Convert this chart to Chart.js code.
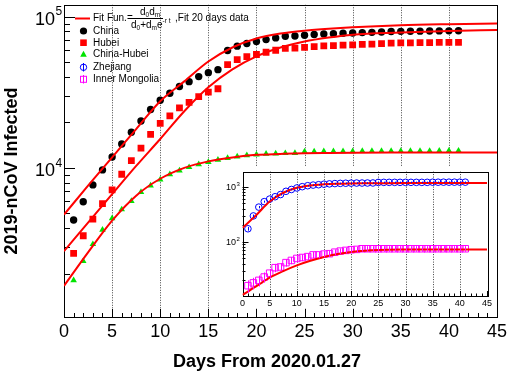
<!DOCTYPE html>
<html>
<head>
<meta charset="utf-8">
<script src="https://cdn.jsdelivr.net/npm/chart.js@4.4.0/dist/chart.umd.min.js"></script>
<style>
  html, body { margin: 0; padding: 0; background: #fff; }
  #wrap { position: relative; width: 510px; height: 373px; }
  #mainChart { position: absolute; left: 0; top: 0; }
  #insetChart { position: absolute; left: 220px; top: 166px; }
</style>
</head>
<body>
<div id="wrap">
  <canvas id="mainChart" width="510" height="373"></canvas>
  <canvas id="insetChart" width="277" height="142"></canvas>
</div>
<script>
// data block
// days since 2020.01.27
const days = [1, 2, 3, 4, 5, 6, 7, 8, 9, 10, 11, 12, 13, 14, 15, 16, 17, 18, 19, 20,
  21, 22, 23, 24, 25, 26, 27, 28, 29, 30, 31, 32, 33, 34, 35, 36, 37, 38, 39, 40, 41];
const china = [4515, 5974, 7711, 9692, 11791, 14380, 17205, 20438, 24324, 28018,
  31161, 34546, 37198, 40171, 42638, 44653, 59804, 63851, 66492, 68500,
  70548, 72436, 74185, 74576, 75465, 76288, 76936, 77150, 77658, 78064,
  78497, 78824, 79251, 79824, 80026, 80151, 80270, 80409, 80552, 80651, 80695];
const hubei = [2714, 3554, 4586, 5806, 7153, 9074, 11177, 13522, 16678, 19665,
  22112, 24953, 27100, 29631, 31728, 33366, 48206, 51986, 54406, 56249,
  58182, 59989, 61682, 62031, 62662, 63454, 64084, 64287, 64786, 65187,
  65596, 65914, 66337, 66907, 67103, 67217, 67332, 67466, 67592, 67666, 67707];
const chinaExHubei = [1801, 2420, 3125, 3886, 4638, 5306, 6028, 6916, 7646, 8353,
  9049, 9593, 10098, 10540, 10910, 11287, 11598, 11865, 12086, 12251,
  12366, 12447, 12503, 12545, 12803, 12834, 12852, 12863, 12872, 12877,
  12901, 12910, 12914, 12917, 12923, 12934, 12938, 12943, 12960, 12985, 12988];
const zhejiang = [173, 296, 428, 538, 599, 661, 724, 829, 895, 954,
  1006, 1048, 1075, 1092, 1117, 1131, 1145, 1155, 1162, 1167,
  1171, 1172, 1173, 1175, 1203, 1205, 1205, 1205, 1205, 1205,
  1205, 1205, 1205, 1206, 1213, 1213, 1215, 1215, 1215, 1215, 1215];
const innerMongolia = [16, 18, 20, 23, 27, 34, 35, 42, 46, 50,
  52, 54, 58, 58, 60, 61, 65, 68, 70, 72,
  73, 75, 75, 75, 75, 75, 75, 75, 75, 75,
  75, 75, 75, 75, 75, 75, 75, 75, 75, 75, 75];

// fit curves
const fitDays = [0, 2.5, 5, 7.5, 10, 12.5, 15, 17.5, 20, 22.5, 25, 27.5, 30, 35, 40, 45];
const chinaFit = [4900, 7620, 11720, 18060, 27600, 37350, 50580, 62540, 71670, 77320,
  80900, 83400, 85300, 87900, 89300, 90300];
const hubeiFit = [2810, 4345, 6700, 10300, 15520, 23700, 34100, 44800, 54600, 62500,
  68500, 72800, 76100, 78500, 80500, 81700];
const chinaExHubeiFit = [1656, 2760, 4480, 6550, 8470, 10000, 11040, 11720, 12190, 12360,
  12500, 12560, 12600, 12620, 12640, 12640];
const insetFitDays = [0, 2.5, 5, 7.5, 10, 12.5, 15, 17.5, 20, 22.5, 25, 30, 35, 40, 45];
const zhejiangFit = [180, 305, 540, 780, 960, 1060, 1110, 1140, 1155, 1162, 1165, 1170, 1170, 1170, 1170];
const innerMongoliaFit = [10.9, 15.5, 22.4, 29.5, 37.5, 45.5, 53, 60, 65.5, 69, 71, 72.5, 73, 73, 73];

// tick labels
const xTicks = [0, 5, 10, 15, 20, 25, 30, 35, 40, 45];
const yTicksMain = [10000, 100000];
const yTicksInset = [100, 1000];

const FONT = '"Liberation Sans", Arial, Helvetica, sans-serif';
const RED = '#ff0000', GREEN = '#00e400', BLUE = '#0000ff', MAGENTA = '#ff00ff';

const pts = (xs, ys) => xs.map((d, i) => ({ x: d, y: ys[i] }));
const fitLine = (data) => ({
  data, showLine: true, borderColor: RED, borderWidth: 2, pointRadius: 0,
  cubicInterpolationMode: 'monotone', fill: false,
});
const markers = (data, style, radius, color, filled) => ({
  data, showLine: false, pointStyle: style, pointRadius: radius,
  pointBackgroundColor: filled ? color : 'rgba(0,0,0,0)', pointBorderColor: color,
  pointBorderWidth: filled ? 0 : 1,
});

function seg(ctx, x1, y1, x2, y2) {
  ctx.beginPath(); ctx.moveTo(x1, y1); ctx.lineTo(x2, y2); ctx.stroke();
}

// draw text pieces: mode 0 normal, 1 subscript, 2 superscript
function rich(ctx, parts, x, y, size) {
  ctx.textAlign = 'left'; ctx.textBaseline = 'middle';
  parts.forEach(([txt, mode]) => {
    const s = mode ? size * 0.65 : size;
    ctx.font = s + 'px ' + FONT;
    const dy = mode === 1 ? size * 0.3 : mode === 2 ? -size * 0.4 : 0;
    ctx.fillText(txt, x, y + dy);
    x += ctx.measureText(txt).width;
  });
  return x;
}

// axes, ticks and dotted grid drawn the ROOT way (ticks inside the frame)
function drawFrame(chart, o) {
  const { ctx, chartArea: { left, right, top, bottom }, scales: { x, y } } = chart;
  ctx.save();
  ctx.lineWidth = 1;
  // dotted grid
  ctx.strokeStyle = '#444';
  ctx.setLineDash([1, 1.5]);
  xTicks.forEach(v => {
    if (v > x.min && v < x.max) {
      const px = Math.round(x.getPixelForValue(v)) + 0.5;
      seg(ctx, px, top, px, bottom);
    }
  });
  ctx.setLineDash([]);
  ctx.strokeStyle = '#000';
  // frame
  ctx.strokeRect(Math.round(left) + 0.5, Math.round(top) + 0.5, Math.round(right - left), Math.round(bottom - top));
  // x ticks
  for (let d = 0; d <= 45; d++) {
    const px = Math.round(x.getPixelForValue(d)) + 0.5;
    const len = d % 5 === 0 ? o.xMajor : o.xMinor;
    seg(ctx, px, bottom, px, bottom - len);
  }
  // y ticks
  for (let e = o.decadeFrom; e <= o.decadeTo; e++) {
    for (let m = 1; m <= 9; m++) {
      const v = m * Math.pow(10, e);
      if (v < y.min || v > y.max) continue;
      const py = Math.round(y.getPixelForValue(v)) + 0.5;
      seg(ctx, left, py, left + (m === 1 ? o.yMajor : o.yMinor), py);
    }
  }
  // labels
  ctx.fillStyle = '#000';
  ctx.font = o.fontSize + 'px ' + FONT;
  ctx.textAlign = 'center';
  ctx.textBaseline = 'middle';
  xTicks.forEach(v => ctx.fillText(String(v), x.getPixelForValue(v), o.xLabelY));
  o.yTicks.forEach(v => {
    const py = y.getPixelForValue(v);
    ctx.font = o.fontSize + 'px ' + FONT;
    ctx.textAlign = 'right';
    ctx.fillText('10', o.yLabelX, py + o.yLabelDy);
    ctx.font = Math.round(o.fontSize * 0.68) + 'px ' + FONT;
    ctx.textAlign = 'left';
    ctx.fillText(String(Math.round(Math.log10(v))), o.yLabelX + 0.5, py + o.yLabelDy - o.fontSize * 0.42);
  });
  ctx.restore();
}

const mainAxes = {
  id: 'mainAxes',
  beforeDatasetsDraw(chart) {
    drawFrame(chart, {
      xMajor: 8, xMinor: 4, yMajor: 11, yMinor: 6, decadeFrom: 3, decadeTo: 5,
      fontSize: 18, xLabelY: 332, yTicks: yTicksMain, yLabelX: 55, yLabelDy: 3,
    });
    const { ctx } = chart;
    ctx.save();
    ctx.fillStyle = '#000';
    ctx.font = 'bold 18px ' + FONT;
    ctx.textAlign = 'center';
    ctx.textBaseline = 'middle';
    ctx.fillText('Days From 2020.01.27', 267, 362);
    ctx.translate(12, 171);
    ctx.rotate(-Math.PI / 2);
    ctx.font = 'bold 18px ' + FONT;
    ctx.fillText('2019-nCoV Infected', 0, 0);
    ctx.restore();
  },
  afterDraw(chart) {
    const { ctx } = chart;
    ctx.save();
    ctx.fillStyle = '#000';
    // fit line entry with the formula
    ctx.strokeStyle = RED; ctx.lineWidth = 2;
    seg(ctx, 75, 18.5, 90, 18.5);
    rich(ctx, [['Fit Fun.=', 0]], 93, 18.5, 10);
    ctx.strokeStyle = '#000'; ctx.lineWidth = 1;
    seg(ctx, 130, 18.5, 163, 18.5);
    rich(ctx, [['d', 0], ['0', 1], ['d', 0], ['m', 1]], 140, 12, 10);
    rich(ctx, [['d', 0], ['0', 1], ['+d', 0], ['m', 1], ['e', 0], ['-r t', 2]], 131, 25, 10);
    rich(ctx, [[',Fit 20 days data', 0]], 175, 18.5, 10);
    const mx = 83.5;
    // China
    ctx.fillStyle = '#000';
    ctx.beginPath(); ctx.arc(mx, 31, 3.6, 0, Math.PI * 2); ctx.fill();
    // Hubei
    ctx.fillStyle = RED;
    ctx.fillRect(mx - 3.3, 42.7 - 3.3, 6.6, 6.6);
    // China-Hubei
    ctx.fillStyle = GREEN;
    ctx.beginPath(); ctx.moveTo(mx, 50.8); ctx.lineTo(mx + 3.3, 56.7); ctx.lineTo(mx - 3.3, 56.7); ctx.closePath(); ctx.fill();
    // Zhejiang
    ctx.strokeStyle = BLUE; ctx.lineWidth = 1;
    ctx.beginPath(); ctx.arc(mx, 67.3, 3.2, 0, Math.PI * 2); ctx.stroke();
    seg(ctx, mx, 63, mx, 71.5);
    // Inner Mongolia
    ctx.strokeStyle = MAGENTA;
    ctx.strokeRect(mx - 3, 79.3 - 3, 6, 6);
    seg(ctx, mx, 75, mx, 83.5);
    ctx.fillStyle = '#000';
    rich(ctx, [['China', 0]], 93, 31.5, 10);
    rich(ctx, [['Hubei', 0]], 93, 43, 10);
    rich(ctx, [['China-Hubei', 0]], 93, 54.5, 10);
    rich(ctx, [['Zhejiang', 0]], 93, 67.5, 10);
    rich(ctx, [['Inner Mongolia', 0]], 93, 79.5, 10);
    ctx.restore();
  },
};

const insetAxes = {
  id: 'insetAxes',
  beforeDraw(chart) {
    const { ctx, width, height } = chart;
    ctx.save();
    ctx.fillStyle = '#fff';
    ctx.fillRect(0, 0, width, height);
    ctx.restore();
  },
  beforeDatasetsDraw(chart) {
    drawFrame(chart, {
      xMajor: 5, xMinor: 2.5, yMajor: 6, yMinor: 3, decadeFrom: 1, decadeTo: 3,
      fontSize: 9, xLabelY: 138, yTicks: yTicksInset, yLabelX: 16, yLabelDy: 1,
    });
  },
  afterDatasetsDraw(chart) {
    // counting error bars
    const { ctx, scales: { x, y } } = chart;
    ctx.save();
    ctx.lineWidth = 1;
    [[zhejiang, BLUE], [innerMongolia, MAGENTA]].forEach(([vals, color]) => {
      ctx.strokeStyle = color;
      vals.forEach((v, i) => {
        const px = Math.round(x.getPixelForValue(days[i])) + 0.5;
        const err = Math.sqrt(v);
        seg(ctx, px, y.getPixelForValue(v + err), px, y.getPixelForValue(Math.max(v - err, y.min)));
      });
    });
    ctx.restore();
  },
};

const common = {
  responsive: false,
  animation: false,
  devicePixelRatio: 1,
  events: [],
  plugins: { legend: { display: false }, tooltip: { enabled: false } },
};

const mainChart = new Chart(document.getElementById('mainChart'), {
  type: 'scatter',
  data: {
    datasets: [
      fitLine(pts(fitDays, chinaFit)),
      fitLine(pts(fitDays, hubeiFit)),
      fitLine(pts(fitDays, chinaExHubeiFit)),
      markers(pts(days, china), 'circle', 3.7, '#000', true),
      markers(pts(days, hubei), 'rect', 4.8, RED, true),
      markers(pts(days, chinaExHubei), 'triangle', 3.8, GREEN, true),
    ],
  },
  options: {
    ...common,
    layout: { padding: { left: 64, right: 13, top: 3, bottom: 56 } },
    scales: {
      x: { type: 'linear', min: 0, max: 45, display: false },
      y: { type: 'logarithmic', min: 1031, max: 119900, display: false },
    },
  },
  plugins: [mainAxes],
});

const insetChart = new Chart(document.getElementById('insetChart'), {
  type: 'scatter',
  data: {
    datasets: [
      fitLine(pts(insetFitDays, zhejiangFit)),
      fitLine(pts(insetFitDays, innerMongoliaFit)),
      markers(pts(days, zhejiang), 'circle', 3.3, BLUE, false),
      markers(pts(days, innerMongolia), 'rect', 4.6, MAGENTA, false),
    ],
  },
  options: {
    ...common,
    layout: { padding: { left: 22.5, right: 10, top: 3.5, bottom: 12 } },
    scales: {
      x: { type: 'linear', min: 0, max: 45, display: false },
      y: { type: 'logarithmic', min: 10.4, max: 1890, display: false },
    },
  },
  plugins: [insetAxes],
});
</script>
</body>
</html>
